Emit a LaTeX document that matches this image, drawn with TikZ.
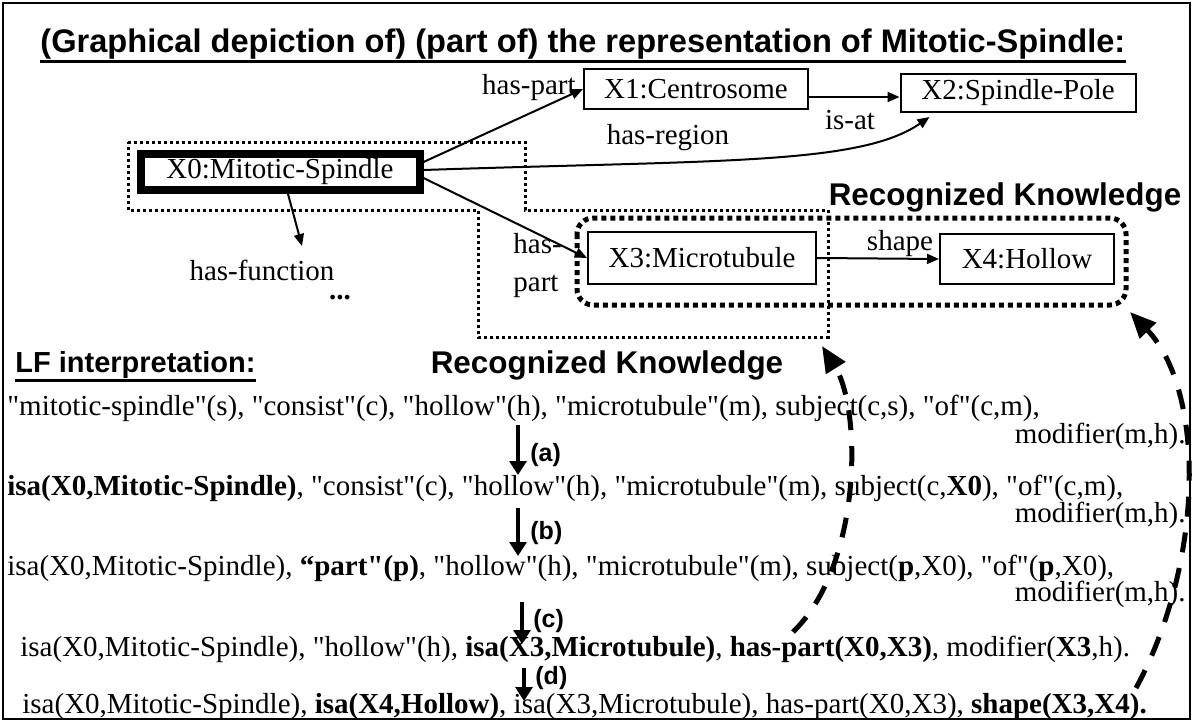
\documentclass[tikz,border=0pt]{standalone}
\usepackage{fontspec}
\setmainfont{Liberation Serif}
\setsansfont{Liberation Sans}
\newfontfamily\lfserif{Liberation Serif}
\usetikzlibrary{positioning,arrows.meta}
\newcommand{\bodyfont}{\lfserif\fontsize{14.5}{19}\selectfont}

\tikzset{
  concept/.style={draw, line width=1pt, inner sep=0pt, font=\bodyfont},
  rel/.style={inner sep=0pt, font=\bodyfont},
  lfline/.style={inner sep=0pt, anchor=base west, font=\bodyfont},
  modline/.style={inner sep=0pt, anchor=base east, font=\bodyfont},
  heading/.style={inner sep=0pt, font=\sffamily\bfseries\fontsize{15.7}{18}\selectfont},
  steplabel/.style={inner sep=0pt, anchor=west, font=\sffamily\bfseries\fontsize{12.5}{15}\selectfont},
  link/.style={line width=1pt, -{Triangle[length=6pt,width=5pt]}},
  derive/.style={line width=1.6pt, -{Triangle[length=7pt,width=8.5pt]}},
  recog/.style={line width=2.5pt, dash pattern=on 10pt off 8pt, -{Triangle[length=13pt,width=11pt]}},
  thinregion/.style={line width=1.5pt, dash pattern=on 1.5pt off 1.5pt},
  thickregion/.style={line width=2.5pt, dash pattern=on 2.5pt off 2pt, rounded corners=8pt}
}

\begin{document}
\begin{tikzpicture}[x=0.5pt,y=-0.5pt]
\useasboundingbox (0,0) rectangle (1193,722);
\draw[line width=1pt] (3,3) rectangle (1190,719);

% headings
\node[inner sep=0pt, anchor=west, font=\sffamily\bfseries\fontsize{16.3}{19}\selectfont] (title) at (40,44)
  {(Graphical depiction of) (part of) the representation of Mitotic-Spindle:};
\draw[line width=1.5pt] ([yshift=-1pt]title.south west) -- ([yshift=-1pt]title.south east);

% concepts
\node[concept, line width=4pt, minimum width=139.5pt, minimum height=18pt] (x0) at (280,172) {X0:Mitotic-Spindle};
\node[concept, minimum width=112pt, minimum height=20pt] (x1) at (696,89) {X1:Centrosome};
\node[concept, minimum width=117.5pt, minimum height=19pt] (x2) at (1018,93) {X2:Spindle-Pole};
\node[concept, minimum width=114pt, minimum height=26pt] (x3) at (702,258) {X3:Microtubule};
\node[concept, minimum width=87pt, minimum height=25pt] (x4) at (1027,259) {X4:Hollow};

% recognized regions
\draw[thinregion] (128,142) -- (525,142) -- (525,210) -- (828,210) -- (828,337)
  -- (478,337) -- (478,210) -- (128,210) -- cycle;
\draw[thickregion] (577,218) rectangle (1126,305);
\node[heading] (rkup) at (1005,197) {Recognized Knowledge};
\node[heading] (rklow) at (607,365) {Recognized Knowledge};

% relation labels
\node[rel, anchor=east] (lhaspart) at (576,88) {has-part};
\node[rel] (lisat) at (850,120) {is-at};
\node[rel] (lhasregion) at (668,138) {has-region};
\node[rel] (lshape) at (900,244) {shape};
\node[rel, anchor=west, align=left] (lhaspartb) at (513,266) {has-\\part};
\node[rel] (lhasfunction) at (262,270) {has-function};
\node[rel, font=\bfseries\bodyfont] (ldots) at (340,298) {...};
\coordinate (fn) at (302,246);

% relations
\draw[link] ([yshift=5pt]x0.east) -- (x1.west);
\draw[link] ([yshift=-4pt]x1.east) -- ([yshift=-2pt]x2.west);
\draw[link] ([yshift=1pt]x0.east) .. controls (720,160) and (860,165) .. ([xshift=15pt,yshift=-2pt]x2.south west);
\draw[link] ([yshift=-3pt]x0.east) -- (x3.west);
\draw[link] (x3.east) -- (x4.west);
\draw[link] ([xshift=4pt]x0.south) -- (fn);

% LF interpretation
\node[inner sep=0pt, anchor=west, font=\sffamily\bfseries\fontsize{14.5}{17}\selectfont] (lf) at (15,365) {LF interpretation:};
\draw[line width=1.5pt] ([yshift=-1pt]lf.south west) -- ([yshift=-1pt]lf.south east);

\node[lfline] (l1) at (7,415) {"mitotic-spindle"(s), "consist"(c), "hollow"(h), "microtubule"(m), subject(c,s), "of"(c,m),};
\node[modline] (m1) at (1186,443) {modifier(m,h).};
\node[lfline] (l2) at (7,495) {\textbf{isa(X0,Mitotic-Spindle)}, "consist"(c), "hollow"(h), "microtubule"(m), subject(c,\textbf{X0}), "of"(c,m),};
\node[modline] (m2) at (1186,522) {modifier(m,h).};
\node[lfline] (l3) at (7,575) {isa(X0,Mitotic-Spindle), \textbf{“part"(p)}, "hollow"(h), "microtubule"(m), subject(\textbf{p},X0), "of"(\textbf{p},X0),};
\node[modline] (m3) at (1186,601) {modifier(m,h).};
\node[lfline] (l4) at (20,656) {isa(X0,Mitotic-Spindle), "hollow"(h), \textbf{isa(X3,Microtubule)}, \textbf{has-part(X0,X3)}, modifier(\textbf{X3},h).};
\node[lfline] (l5) at (22,713) {isa(X0,Mitotic-Spindle), \textbf{isa(X4,Hollow)}, isa(X3,Microtubule), has-part(X0,X3), \textbf{shape(X3,X4).}};

% derivation steps
\coordinate (a1) at (518,425); \coordinate (a2) at (518,475);
\coordinate (b1) at (518,508); \coordinate (b2) at (518,556);
\coordinate (c1) at (522,602); \coordinate (c2) at (522,644);
\coordinate (d1) at (524,668); \coordinate (d2) at (524,701);
\draw[derive] (a1) -- (a2);
\draw[derive] (b1) -- (b2);
\draw[derive] (c1) -- (c2);
\draw[derive] (d1) -- (d2);
\node[steplabel] (sa) at (530,455) {(a)};
\node[steplabel] (sb) at (530,533) {(b)};
\node[steplabel] (sc) at (533,621) {(c)};
\node[steplabel] (sd) at (535,678) {(d)};

% recognition links
\coordinate (r1) at (793,632); \coordinate (t1) at (822,346);
\coordinate (r2) at (1136,688); \coordinate (t2) at (1130,312);
\draw[recog] (r1) .. controls (862,565) and (862,410) .. (t1);
\draw[recog] (r2) .. controls (1205,560) and (1205,390) .. (t2);
\end{tikzpicture}
\end{document}
